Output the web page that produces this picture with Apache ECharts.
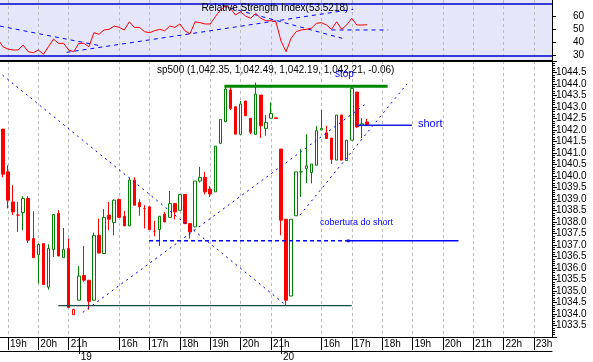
<!DOCTYPE html>
<html><head><meta charset="utf-8">
<script src="https://cdn.jsdelivr.net/npm/echarts@6/dist/echarts.min.js"></script>
<style>html,body{margin:0;padding:0;background:#fff}#c{width:593px;height:362px}</style>
</head><body><div id="c"></div>
<script>
// ---- data (10-minute bars, slot index on the x axis) ----
const slots  = [0,1,2,3,4,5,6,7,8,9,10,11,12,13,14,15,16,17,18,19,20,21,22,23,24,25,26,27,28,29,30,31,32,33,34,35,36,37,38,39,40,41,42,43,44,45,46,47,48,49,50,51,52,53,54,55,56,57,58,59,60,61,62,63,64,65,66,67,68,69,70,71,72,73];
const opens  = [1043.23,1042.04,1040.18,1038.87,1038.30,1038.41,1039.02,1037.28,1036.58,1037.06,1035.17,1036.80,1038.37,1036.45,1036.85,1034.20,1034.60,1035.68,1035.47,1034.60,1037.42,1036.63,1038.30,1037.98,1038.98,1038.25,1037.83,1039.82,1038.85,1038.59,1038.66,1037.60,1037.67,1038.34,1038.20,1038.80,1038.51,1039.20,1037.93,1037.79,1039.78,1039.94,1039.43,1039.31,1041.42,1042.36,1043.74,1043.01,1041.81,1043.26,1042.51,1041.81,1043.52,1042.07,1042.51,1042.53,1041.17,1038.12,1034.78,1038.27,1040.18,1040.33,1040.15,1040.47,1042.00,1041.88,1041.65,1040.69,1042.65,1040.67,1041.56,1043.65,1042.21,1042.35];
const closes = [1042.13,1040.08,1038.95,1038.44,1038.30,1039.02,1037.21,1036.45,1037.02,1035.28,1036.85,1038.33,1036.52,1036.80,1034.28,1033.97,1035.65,1035.47,1034.55,1037.42,1036.65,1038.20,1038.12,1038.95,1038.20,1037.83,1039.82,1038.73,1038.66,1038.59,1037.67,1037.60,1038.25,1038.00,1038.80,1038.44,1039.20,1037.93,1037.57,1039.78,1039.94,1039.31,1039.22,1041.30,1042.46,1043.78,1042.94,1041.82,1043.13,1042.62,1041.90,1043.56,1042.18,1042.33,1042.72,1042.50,1038.08,1034.60,1038.12,1040.18,1040.18,1040.44,1040.52,1041.97,1042.07,1041.63,1040.72,1042.65,1040.69,1041.56,1043.81,1042.13,1042.27,1042.21];
const lows   = [1042.10,1039.94,1038.59,1038.30,1037.57,1037.64,1037.09,1036.45,1035.32,1035.28,1035.06,1036.48,1036.52,1036.45,1034.28,1033.97,1034.60,1035.40,1034.19,1034.60,1036.65,1036.63,1037.64,1037.42,1038.20,1037.83,1037.83,1038.73,1038.27,1037.72,1037.67,1037.38,1036.96,1038.00,1038.20,1038.11,1038.51,1037.93,1037.28,1037.79,1039.72,1039.20,1039.09,1039.31,1041.42,1042.36,1042.87,1041.82,1041.81,1042.62,1041.82,1041.81,1041.66,1041.75,1042.51,1042.50,1037.42,1034.38,1034.78,1038.27,1039.09,1039.70,1039.68,1040.47,1042.00,1041.63,1040.52,1040.69,1040.69,1040.67,1041.56,1042.10,1041.65,1042.19];
const highs  = [1043.23,1042.04,1040.47,1039.60,1038.87,1039.12,1039.12,1038.47,1037.06,1037.06,1037.03,1038.33,1038.51,1037.74,1037.28,1034.20,1036.08,1036.96,1035.47,1037.54,1038.15,1038.56,1038.87,1038.98,1039.02,1038.48,1039.94,1039.94,1038.99,1038.73,1038.66,1038.05,1038.25,1038.44,1039.35,1038.80,1039.20,1039.20,1037.93,1039.78,1040.40,1040.18,1039.56,1041.30,1042.46,1043.91,1043.88,1043.01,1043.26,1043.26,1042.51,1044.06,1043.52,1042.65,1043.20,1042.53,1041.17,1038.12,1038.12,1040.18,1041.17,1041.81,1040.52,1042.17,1042.87,1042.18,1041.65,1042.65,1042.65,1041.56,1043.91,1043.65,1042.52,1042.49];
const rsi    = [42.3,36.6,34.8,34.1,34.1,37.9,32.8,32.0,34.1,30.8,36.6,42.5,39.2,39.2,34.1,32.8,39.2,39.2,36.6,47.4,46.2,49.5,50.0,52.5,51.5,49.5,55.8,51.5,51.5,48.2,47.4,48.9,50.0,48.9,52.5,51.5,54.1,48.9,46.5,55.8,55.1,54.1,54.1,59.7,64.8,67.9,66.2,61.0,63.5,60.2,58.5,62.3,58.5,56.6,56.6,55.8,41.0,32.8,43.1,48.2,49.5,50.0,50.8,54.6,55.1,53.3,50.0,55.8,50.0,53.3,58.5,53.3,53.3,53.5218];
const redDoji   = [4,29,31,55];
const greenDoji = [60];
const hollowRed = [15];

// axis ticks / labels
const hourSlots  = [2,8,14,24,30,36,42,48,54,64,70,76,82,88,94,100,106];
const hourLabels = ['19h','20h','21h','16h','17h','18h','19h','20h','21h','16h','17h','18h','19h','20h','21h','22h','23h'];
const daySlots   = [16,56];
const dayLabels  = ['19','20'];
const rsiTicks   = [30,40,50,60];
const rsiBands   = [70,30];

// annotation lines (slot, price)
const trendDown   = [[0,1044.55],[57,1034.38]];
const trendUp1    = [[16.8,1034.07],[73.0,1043.17]];
const trendUp2    = [[59.76,1038.30],[80.9,1044.0]];
const coverDashed = [[29.9,1037.18],[69.3,1037.18]];
const coverSolid  = [[69.3,1037.18],[91.1,1037.18]];
const supportLine = [[11.95,1034.36],[70.0,1034.36]];
const stopLine    = [[44.8,1043.90],[77.1,1043.90]];
const shortLine   = [[71.0,1042.21],[81.9,1042.21]];
// RSI annotation lines (slot, rsi)
const rsiDown1 = [[0.4,52.5],[20.2,37.4]];
const rsiUp    = [[13.6,32.3],[70.3,65.4]];
const rsiDown2 = [[44.5,67.9],[68.1,43.1]];
const rsiFlat  = [[66,49.5],[77.2,49.5]];

const F = '"Liberation Sans", Arial, sans-serif';
const XMIN = 0.415, XMAX = 109.61;
const RED = '#ff0000', GREEN = '#008000', BLUE = '#0000ff';

const candleData = slots.map((k, i) => {
  const item = { value: [k, opens[i], closes[i], lows[i], highs[i]] };
  if (redDoji.includes(k)) item.itemStyle = {color: RED, color0: RED, borderColor: RED, borderColor0: RED, borderColorDoji: RED};
  if (greenDoji.includes(k)) item.itemStyle = {color: GREEN, color0: GREEN, borderColor: GREEN, borderColor0: GREEN, borderColorDoji: GREEN};
  if (hollowRed.includes(k)) item.itemStyle = {color: '#fff', color0: '#fff', borderColor: RED, borderColor0: RED};
  return item;
});

function lineSeries(data, color, width, type, xi, yi, z) {
  return {type: 'line', xAxisIndex: xi, yAxisIndex: yi, data: data, symbol: 'none', silent: true,
    lineStyle: {color: color, width: width, type: type}, z: z || 5, animation: false};
}

const last = slots.length - 1;
const fmt = v => v.toLocaleString('en-US', {minimumFractionDigits: 2, maximumFractionDigits: 2});
const change = closes[last] - closes[last - 1];
const titleText = 'sp500 (' + fmt(opens[last]) + ', ' + fmt(highs[last]) + ', ' + fmt(lows[last]) + ', ' + fmt(closes[last]) + ', ' + change.toFixed(2) + ')';

const chart = echarts.init(document.getElementById('c'), null, {width: 593, height: 362});
const gridLine = {show: true, lineStyle: {color: '#bcbcbc', type: [3, 3], width: 1}};
const option = {
  animation: false,
  backgroundColor: '#fff',
  grid: [
    {left: 0, right: 41, top: 0, height: 60, show: true, backgroundColor: '#E6E6FA', borderWidth: 0},
    {left: 0, right: 41, top: 61, bottom: 25, show: false}
  ],
  xAxis: [
    {type: 'value', gridIndex: 1, min: XMIN, max: XMAX, position: 'bottom',
     axisLine: {show: true, onZero: false, lineStyle: {color: '#000', width: 1}},
     axisTick: {show: true, customValues: hourSlots, length: 13, lineStyle: {color: '#000'}},
     axisLabel: {show: true, customValues: hourSlots, formatter: v => hourLabels[hourSlots.indexOf(v)] || '',
       align: 'left', margin: 2, padding: [0, 0, 0, 2], fontSize: 10, color: '#000', fontFamily: F},
     splitLine: gridLine},
    {type: 'value', gridIndex: 1, min: XMIN, max: XMAX, position: 'bottom', offset: 14,
     axisLine: {show: true, onZero: false, lineStyle: {color: '#000'}}, axisTick: {show: false}, axisLabel: {show: false}, splitLine: {show: false}},
    {type: 'value', gridIndex: 1, min: XMIN, max: XMAX, position: 'bottom',
     axisLine: {show: false}, axisTick: {show: true, customValues: daySlots, length: 17, lineStyle: {color: '#000'}},
     axisLabel: {show: true, customValues: daySlots, formatter: v => dayLabels[daySlots.indexOf(v)] || '',
       align: 'left', margin: 15, padding: [0, 0, 0, 2], fontSize: 10, color: '#000', fontFamily: F},
     splitLine: {show: false}},
    {type: 'value', gridIndex: 1, min: XMIN, max: XMAX, position: 'top',
     axisLine: {show: true, onZero: false, lineStyle: {color: '#000', width: 2}}, axisTick: {show: false}, axisLabel: {show: false}, splitLine: {show: false}},
    {type: 'value', gridIndex: 0, min: XMIN, max: XMAX, position: 'bottom',
     axisLine: {show: false}, axisTick: {show: false, customValues: hourSlots}, axisLabel: {show: false, customValues: hourSlots}, splitLine: gridLine}
  ],
  yAxis: [
    {type: 'value', gridIndex: 0, min: 26.4, max: 72.55, position: 'right',
     axisLine: {show: true, lineStyle: {color: '#000'}},
     axisTick: {show: true, customValues: rsiTicks, length: 4, lineStyle: {color: '#000'}},
     axisLabel: {show: true, customValues: rsiTicks, margin: 21, fontSize: 10, color: '#000', fontFamily: F},
     splitLine: {show: false}},
    {type: 'value', gridIndex: 1, min: 1033, max: 1045, interval: 0.5, position: 'right',
     axisLine: {show: true, lineStyle: {color: '#000'}},
     axisTick: {show: true, length: 5, lineStyle: {color: '#000'}},
     minorTick: {show: true, splitNumber: 5, length: 3, lineStyle: {color: '#000'}},
     axisLabel: {show: true, margin: 4, fontSize: 10, color: '#000', fontFamily: F,
       formatter: v => (v > 1033.01 && v < 1044.99) ? v.toFixed(1) : ''},
     splitLine: {show: false}}
  ],
  series: [
    {type: 'candlestick', xAxisIndex: 0, yAxisIndex: 1, barWidth: 3, data: candleData, z: 3,
     encode: {x: 0, y: [1, 2, 3, 4]},
     itemStyle: {color: '#fff', color0: RED, borderColor: GREEN, borderColor0: RED, borderColorDoji: RED, borderWidth: 1}},
    lineSeries(trendDown, BLUE, 1, [2, 4], 0, 1, 6),
    lineSeries(trendUp1, BLUE, 1, [2, 4], 0, 1, 6),
    lineSeries(trendUp2, BLUE, 1, [2, 4], 0, 1, 6),
    lineSeries(coverDashed, BLUE, 1.5, [4, 3], 0, 1, 6),
    lineSeries(coverSolid, BLUE, 1.5, 'solid', 0, 1, 6),
    lineSeries(supportLine, '#1e4a46', 1.2, 'solid', 0, 1, 6),
    lineSeries(stopLine, '#008800', 3, 'solid', 0, 1, 6),
    lineSeries(shortLine, '#1a1ae0', 1.5, 'solid', 0, 1, 6),
    {type: 'scatter', xAxisIndex: 0, yAxisIndex: 1, data: [coverSolid[0]], symbol: 'rect', symbolSize: 3,
     itemStyle: {color: BLUE}, silent: true, z: 7},
    {type: 'line', xAxisIndex: 4, yAxisIndex: 0, data: slots.map((k, i) => [k, rsi[i]]), symbol: 'none',
     lineStyle: {color: RED, width: 1}, z: 5,
     markLine: {silent: true, symbol: 'none', label: {show: false},
       lineStyle: {color: '#0000cd', width: 1.5, type: 'solid'},
       data: rsiBands.map(v => ({yAxis: v}))}},
    lineSeries(rsiDown1, BLUE, 1, [4, 4], 4, 0, 4),
    lineSeries(rsiUp, BLUE, 1, [4, 4], 4, 0, 4),
    lineSeries(rsiDown2, BLUE, 1, [4, 4], 4, 0, 4),
    lineSeries(rsiFlat, BLUE, 1, [4, 4], 4, 0, 4)
  ],
  graphic: [
    {type: 'text', x: 275, y: 8, style: {text: 'Relative Strength Index(' + rsi[last].toFixed(4) + ')', font: '10px ' + F, fill: '#000', align: 'center', verticalAlign: 'middle'}, z: 10},
    {type: 'text', x: 157, y: 70, style: {text: titleText, font: '10px ' + F, fill: '#000', align: 'left', verticalAlign: 'middle'}, z: 10},
    {type: 'text', x: 335, y: 74, style: {text: 'stop', font: '10px ' + F, fill: BLUE, align: 'left', verticalAlign: 'middle'}, z: 10},
    {type: 'text', x: 418, y: 123.5, style: {text: 'short', font: '11px ' + F, fill: BLUE, align: 'left', verticalAlign: 'middle'}, z: 10},
    {type: 'text', x: 320, y: 222.5, style: {text: 'cobertura do short', font: '9px ' + F, fill: BLUE, align: 'left', verticalAlign: 'middle'}, z: 10}
  ]
};
chart.setOption(option);
</script></body></html>
